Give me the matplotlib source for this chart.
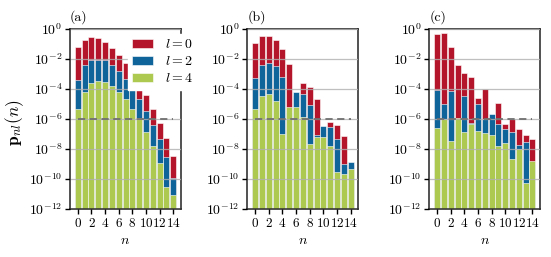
import numpy as np
from matplotlib import pyplot as plt

plt.rcParams['font.family'] = 'serif'
plt.rcParams['font.serif'] = ['cmr10', 'DejaVu Serif']
plt.rcParams['mathtext.fontset'] = 'cm'
plt.rcParams['axes.formatter.use_mathtext'] = True
plt.rcParams['font.size'] = 10

n = np.arange(15)

# panel (a)
a_l0 = [6e-2, 0.2, 0.3, 0.24, 0.13, 5.4e-2, 1.9e-2, 5.4e-3, 1.7e-3, 2.3e-4, 3.8e-5, 5e-6, 5.4e-7, 5.4e-8, 3.2e-9]
a_l2 = [3.8e-4, 3.8e-3, 9e-3, 9e-3, 8e-3, 4e-3, 1.7e-3, 4.6e-4, 1.2e-4, 2.3e-5, 3.2e-6, 4.2e-7, 4.9e-8, 2.8e-9, 1.2e-10]
a_l4 = [5e-6, 6.6e-5, 2.5e-4, 3.2e-4, 2.8e-4, 1.7e-4, 6.6e-5, 2e-5, 4.7e-6, 1.2e-6, 1.3e-7, 1.5e-8, 1.2e-9, 3e-11, 9e-12]

# panel (b)
b_l0 = [0.12, 0.36, 0.36, 0.19, 4.7e-2, 4.7e-3, 4e-5, 2.6e-4, 1.4e-4, 2e-5, 2e-7, 6.6e-7, 4.2e-7, 7.4e-8, 8e-10]
b_l2 = [5.4e-4, 3.8e-3, 5.7e-3, 3.2e-3, 6e-4, 3e-6, 6.6e-5, 4.9e-5, 8.5e-6, 8.5e-8, 3.4e-7, 2.8e-7, 4.7e-8, 1e-9, 1.3e-9]
b_l4 = [4.9e-6, 3.6e-5, 4.7e-5, 1.5e-5, 1e-7, 6.6e-6, 6e-6, 1.4e-6, 2.3e-8, 6.6e-8, 6.6e-8, 1.5e-8, 3e-10, 2.2e-10, 4.7e-10]

# panel (c)
c_l0 = [0.44, 0.57, 6.6e-2, 4e-3, 1.1e-3, 6.3e-4, 2.6e-5, 9.5e-5, 1e-6, 1.1e-5, 4.7e-7, 1e-6, 2e-7, 8.5e-8, 4.7e-8]
c_l2 = [8e-5, 9.5e-6, 7.4e-5, 8e-7, 3.6e-5, 5.4e-7, 9.5e-6, 1e-6, 2e-6, 4.9e-7, 2.3e-7, 1.3e-7, 1.9e-8, 2.8e-8, 1e-9]
c_l4 = [2.4e-7, 1e-6, 3.6e-8, 1.2e-6, 1.4e-7, 4.7e-7, 1.6e-7, 1.2e-7, 9e-8, 1.7e-8, 2.6e-8, 2.3e-9, 1e-8, 5.4e-11, 1.6e-9]

panels = [('(a)', a_l0, a_l2, a_l4), ('(b)', b_l0, b_l2, b_l4), ('(c)', c_l0, c_l2, c_l4)]
colors = ['#b5152b', '#0f659a', '#adc94f']
labels = ['$l = 0$', '$l = 2$', '$l = 4$']
threshold = 1e-6

fig = plt.figure(figsize=(5.51, 2.57), dpi=100)
lefts = [0.127, 0.449, 0.779]

for k, (title, l0, l2, l4) in enumerate(panels):
    ax = fig.add_axes([lefts[k], 0.187, 0.201, 0.700])
    ax.set_yscale('log')
    for vals, c, lab in zip([l0, l2, l4], colors, labels):
        ax.bar(n, np.array(vals) - 1e-13, width=0.88, bottom=1e-13, color=c,
               edgecolor='white', linewidth=0.4, label=lab, zorder=2)
    ax.set_ylim(1e-12, 1)
    ax.set_xlim(-1.15, 15.1)
    ax.set_yticks([10.0**e for e in range(-12, 1, 2)])
    ax.minorticks_off()
    ax.set_xticks(range(0, 15, 2))
    ax.tick_params(axis='x', labelsize=9.5)
    ax.grid(axis='y', color='#b0b0b0', linewidth=0.9, alpha=0.8, zorder=3)
    ax.set_axisbelow(False)
    ax.hlines(threshold, 0, 14, colors='#707070', linestyles=(0, (4, 2.5)), linewidth=1.3, zorder=4)
    ax.tick_params(direction='out', length=3.5, width=1, top=False, right=False, pad=2)
    for s in ax.spines.values():
        s.set_linewidth(1.1)
        s.set_color('#222222')
    ax.set_xlabel('$n$', labelpad=4)
    ax.set_title(title, loc='left', fontsize=10, pad=6)
    if k == 0:
        ax.set_ylabel(r'$\mathbf{p}_{nl}(n)$', fontsize=12.5, va='center')
        ax.yaxis.set_label_coords(-0.5, 0.48)
        ax.legend(loc='upper right', bbox_to_anchor=(198 / 551, 1 - 34 / 257),
                  bbox_transform=fig.transFigure,
                  frameon=True, framealpha=1, edgecolor='white',
                  fancybox=False, handlelength=1.5, handleheight=0.6, handletextpad=0.9,
                  borderpad=0.3, labelspacing=0.3, borderaxespad=0, fontsize=10)

fig.savefig('out.png', dpi=100)
